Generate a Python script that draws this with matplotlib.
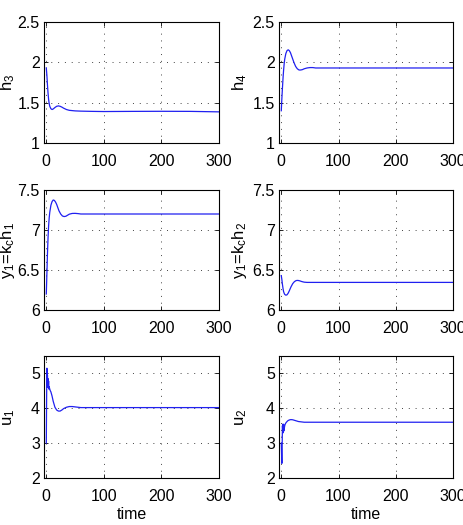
import matplotlib
matplotlib.use("Agg")
import matplotlib.pyplot as plt

plt.rcParams['font.family'] = ['Liberation Sans Narrow', 'Liberation Sans', 'DejaVu Sans']
plt.rcParams['mathtext.fontset'] = 'custom'
plt.rcParams['mathtext.rm'] = 'Liberation Sans'
plt.rcParams['mathtext.it'] = 'Liberation Sans'

# ---- data ----
t_h3 = [0, 1, 2, 3, 4, 5, 6, 8, 10, 12, 15, 18, 21, 24, 27, 30, 35, 40, 50, 60, 80, 100, 150, 200, 250, 300]
h3 = [1.93, 1.84, 1.72, 1.62, 1.54, 1.49, 1.455, 1.425, 1.415, 1.422, 1.44, 1.455, 1.46, 1.455, 1.445, 1.432,
      1.415, 1.405, 1.398, 1.395, 1.392, 1.39, 1.392, 1.393, 1.392, 1.386]

t_h4 = [0, 1, 2, 3, 4, 5, 6, 8, 10, 12, 14, 16, 18, 20, 22, 25, 28, 31, 34, 37, 40, 45, 50, 55, 60, 80, 100, 300]
h4 = [1.40, 1.55, 1.68, 1.80, 1.90, 1.98, 2.04, 2.11, 2.145, 2.155, 2.145, 2.12, 2.08, 2.04, 2.0, 1.95,
      1.92, 1.905, 1.905, 1.91, 1.92, 1.93, 1.935, 1.935, 1.93, 1.93, 1.93, 1.93]

t_y1 = [0, 1, 2, 3, 4, 5, 6, 8, 10, 12, 14, 16, 18, 20, 22, 25, 28, 31, 34, 37, 40, 45, 50, 55, 60, 80, 100, 300]
y1 = [6.2, 6.45, 6.7, 6.9, 7.05, 7.15, 7.22, 7.31, 7.355, 7.375, 7.37, 7.35, 7.32, 7.28, 7.24, 7.2,
      7.175, 7.168, 7.172, 7.185, 7.198, 7.207, 7.208, 7.205, 7.2, 7.2, 7.2, 7.2]

t_y2 = [0, 1, 2, 3, 4, 5, 6, 8, 10, 12, 14, 17, 20, 23, 26, 29, 32, 36, 40, 45, 50, 60, 80, 100, 300]
y2 = [6.43, 6.38, 6.32, 6.27, 6.23, 6.21, 6.195, 6.185, 6.19, 6.21, 6.24, 6.29, 6.33, 6.355, 6.368, 6.37,
      6.365, 6.355, 6.348, 6.345, 6.345, 6.345, 6.345, 6.345, 6.345]

t_u1 = [0, 0.5, 1, 1.5, 2, 2.5, 3, 3.5, 4, 4.5, 5, 6, 7, 8, 10, 12, 15, 18, 21, 24, 27, 30, 35, 40, 45, 50, 60, 80, 300]
u1 = [3.0, 4.2, 5.15, 4.6, 4.95, 4.65, 4.85, 4.6, 4.78, 4.55, 4.62, 4.55, 4.5, 4.47, 4.35, 4.2, 4.03, 3.95,
      3.92, 3.92, 3.95, 3.99, 4.03, 4.05, 4.05, 4.04, 4.02, 4.02, 4.02]

t_u2 = [0, 0.5, 1, 1.5, 2, 2.5, 3, 3.5, 4, 4.5, 5, 5.5, 6, 7, 8, 10, 12, 15, 17, 20, 23, 26, 30, 35, 40, 60, 100, 300]
u2 = [3.0, 2.7, 2.42, 2.9, 3.5, 3.3, 3.55, 3.3, 3.5, 3.35, 3.52, 3.45, 3.5, 3.55, 3.58, 3.62, 3.65, 3.67,
      3.675, 3.67, 3.655, 3.64, 3.62, 3.61, 3.6, 3.6, 3.6, 3.6]

xticks = [0, 100, 200, 300]
yt_h = [1, 1.5, 2, 2.5]
yt_y = [6, 6.5, 7, 7.5]
yt_u = [2, 3, 4, 5]

panels = [
    (t_h3, h3, r'h$_3$', yt_h, (1, 2.5), ['1', '1.5', '2', '2.5']),
    (t_h4, h4, r'h$_4$', yt_h, (1, 2.5), ['1', '1.5', '2', '2.5']),
    (t_y1, y1, r'y$_1$=k$_c$h$_1$', yt_y, (6, 7.5), ['6', '6.5', '7', '7.5']),
    (t_y2, y2, r'y$_1$=k$_c$h$_2$', yt_y, (6, 7.5), ['6', '6.5', '7', '7.5']),
    (t_u1, u1, r'u$_1$', yt_u, (2, 5.5), ['2', '3', '4', '5']),
    (t_u2, u2, r'u$_2$', yt_u, (2, 5.5), ['2', '3', '4', '5']),
]

W, H = 463, 525
fig = plt.figure(figsize=(W / 100, H / 100), dpi=100)

col_x = [(44, 219), (279, 453)]
row_y = [(22, 143), (190, 310), (356, 478)]
label_x = [-0.155, -0.175]

for i, (t, v, lab, yt, ylim, ytl) in enumerate(panels):
    r, c = divmod(i, 2)
    x0, x1 = col_x[c]
    y0, y1_ = row_y[r]
    ax = fig.add_axes([x0 / W, 1 - y1_ / H, (x1 - x0) / W, (y1_ - y0) / H])
    ax.plot(t, v, color='#2020f0', lw=0.9)
    ax.set_xlim(-4, 300)
    ax.set_ylim(*ylim)
    ax.set_xticks(xticks)
    ax.set_yticks(yt)
    ax.set_yticklabels(ytl)
    ax.grid(True, color='#444444', linestyle=(0, (1, 6)), lw=0.7)
    ax.tick_params(direction='in', top=True, right=True, labelsize=11.5, length=3, width=0.6)
    ax.tick_params(axis='x', pad=8)
    ax.tick_params(axis='y', pad=3)
    for s in ax.spines.values():
        s.set_linewidth(0.8)
    ax.set_ylabel(lab, fontsize=12)
    ax.yaxis.set_label_coords(label_x[c], 0.5)
    if r == 2:
        ax.set_xlabel('time', fontsize=11.5, labelpad=2)

fig.savefig('out.png', dpi=100)
